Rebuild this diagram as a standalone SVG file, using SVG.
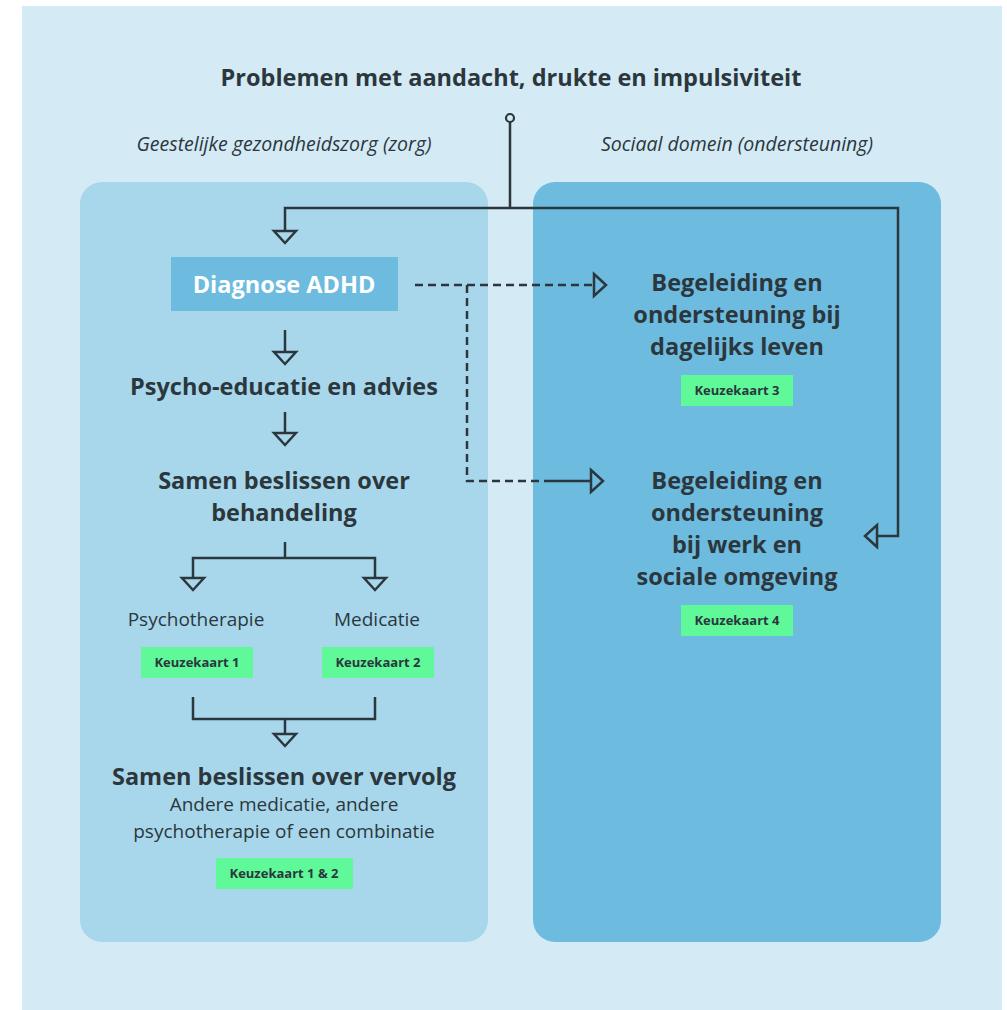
<svg xmlns="http://www.w3.org/2000/svg" width="1007" height="1010" viewBox="0 0 1007 1010">
<defs>
<style>
.t{font-family:"Open Sans","Noto Sans",sans-serif;fill:#2b373d;text-anchor:middle;font-variant-ligatures:none}
.h{font-size:23.5px;font-weight:bold}
.r{font-size:19px}
.i{font-size:19.5px;font-style:italic}
.k{font-size:13px;font-weight:bold}
.ln{fill:none;stroke:#2b373d;stroke-width:2.5}
.d{stroke-dasharray:8 5}
.kb{fill:#60f99a}
</style>
<marker id="a" markerUnits="userSpaceOnUse" markerWidth="14" markerHeight="26" viewBox="-1 -13 14 26" refX="0" refY="0" orient="auto" overflow="visible">
<path d="M0,-11 L12,0 L0,11 Z" fill="none" stroke="#2b373d" stroke-width="2.5" stroke-linejoin="miter"/>
</marker>
</defs>
<rect x="22" y="6" width="980" height="1004" fill="#d4eaf5"/>
<rect id="card-left" x="80" y="182" width="408" height="760" rx="22" fill="#a8d7eb"/>
<rect id="card-right" x="533" y="182" width="408" height="760" rx="22" fill="#6ebbe0"/>

<g id="title"><text class="t h" x="511" y="86">Problemen met aandacht, drukte en impulsiviteit</text></g>
<g id="label-left"><text class="t i" x="284" y="151">Geestelijke gezondheidszorg (zorg)</text></g>
<g id="label-right"><text class="t i" x="737" y="151">Sociaal domein (ondersteuning)</text></g>

<g id="connectors">
<circle cx="510" cy="118" r="4" fill="none" stroke="#2b373d" stroke-width="2.2"/>
<path class="ln" d="M510,122 V208"/>
<path class="ln" d="M510,208 H285 V231" marker-end="url(#a)"/>
<path class="ln" d="M510,208 H898 V536 H877" marker-end="url(#a)"/>
<path class="ln d" d="M415,285 H594" marker-end="url(#a)"/>
<path class="ln d" d="M467,285 V481 H547"/>
<path class="ln" d="M547,481 H591" marker-end="url(#a)"/>
<path class="ln" d="M285,330 V352" marker-end="url(#a)"/>
<path class="ln" d="M285,412 V433" marker-end="url(#a)"/>
<path class="ln" d="M285,542 V558"/>
<path class="ln" d="M285,558 H193 V578" marker-end="url(#a)"/>
<path class="ln" d="M285,558 H375 V578" marker-end="url(#a)"/>
<path class="ln" d="M193,697 V719 H375 V697"/>
<path class="ln" d="M285,719 V734" marker-end="url(#a)"/>
</g>

<g id="diagnose">
<rect x="171" y="257" width="227" height="54" fill="#6ebbe0"/>
<text class="t h" x="284" y="293" style="fill:#ffffff">Diagnose ADHD</text>
</g>
<g id="psycho-educatie"><text class="t h" x="284" y="395">Psycho-educatie en advies</text></g>
<g id="samen-beslissen">
<text class="t h" x="284" y="489">Samen beslissen over</text>
<text class="t h" x="284" y="521">behandeling</text>
</g>
<g id="psychotherapie">
<text class="t r" x="196" y="626">Psychotherapie</text>
<rect class="kb" x="141" y="647" width="112" height="31"/>
<text class="t k" x="197" y="667">Keuzekaart 1</text>
</g>
<g id="medicatie">
<text class="t r" x="377" y="626">Medicatie</text>
<rect class="kb" x="322" y="647" width="112" height="31"/>
<text class="t k" x="378" y="667">Keuzekaart 2</text>
</g>
<g id="vervolg">
<text class="t h" x="284" y="785">Samen beslissen over vervolg</text>
<text class="t r" x="284" y="811">Andere medicatie, andere</text>
<text class="t r" x="284" y="838">psychotherapie of een combinatie</text>
<rect class="kb" x="216" y="858" width="137" height="31"/>
<text class="t k" x="284" y="878">Keuzekaart 1 &amp; 2</text>
</g>
<g id="begeleiding-dagelijks">
<text class="t h" x="737" y="291">Begeleiding en</text>
<text class="t h" x="737" y="323">ondersteuning bij</text>
<text class="t h" x="737" y="355">dagelijks leven</text>
<rect class="kb" x="681" y="375" width="112" height="31"/>
<text class="t k" x="737" y="395">Keuzekaart 3</text>
</g>
<g id="begeleiding-werk">
<text class="t h" x="737" y="489">Begeleiding en</text>
<text class="t h" x="737" y="521">ondersteuning</text>
<text class="t h" x="737" y="553">bij werk en</text>
<text class="t h" x="737" y="585">sociale omgeving</text>
<rect class="kb" x="681" y="605" width="112" height="31"/>
<text class="t k" x="737" y="625">Keuzekaart 4</text>
</g>
</svg>
